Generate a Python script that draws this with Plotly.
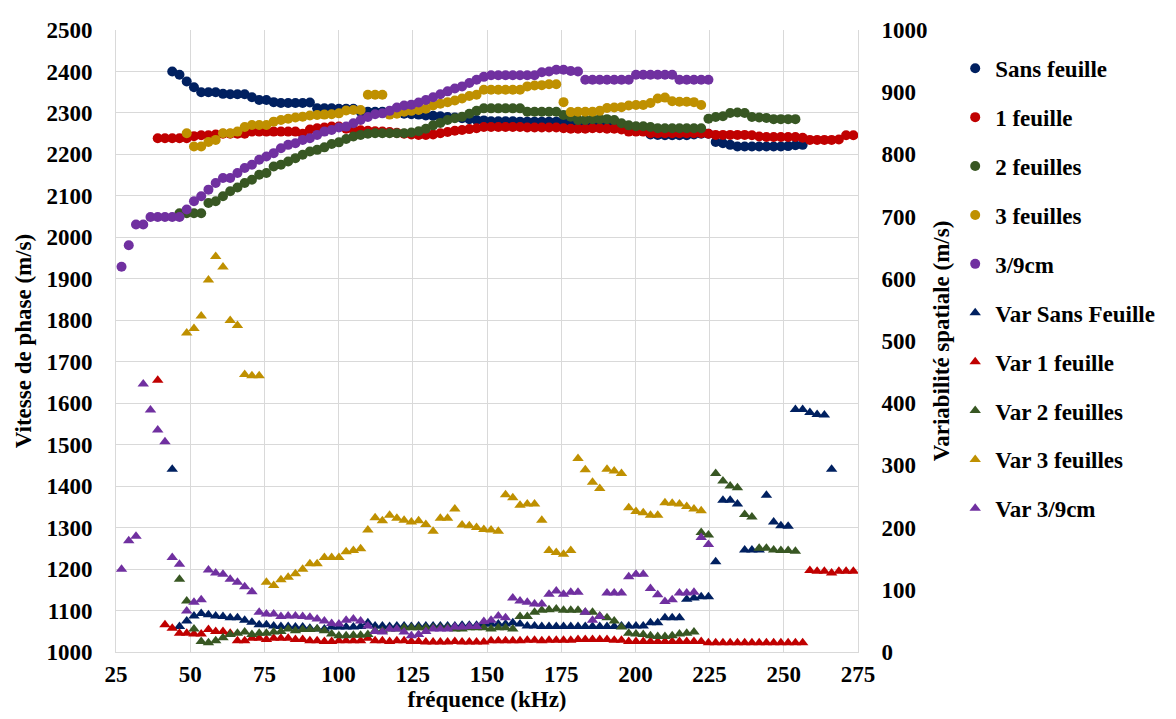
import plotly.graph_objects as go

# Frequency grid (kHz) shared by all series, first value = index 11 of the grid
freq_khz = [
    26.86, 29.30, 31.74, 34.18, 36.62, 39.06, 41.50, 43.95, 46.39, 48.83,
    51.27, 53.71, 56.15, 58.59, 61.04, 63.48, 65.92, 68.36, 70.80, 73.24,
    75.68, 78.13, 80.57, 83.01, 85.45, 87.89, 90.33, 92.77, 95.21, 97.66,
    100.10, 102.54, 104.98, 107.42, 109.86, 112.30, 114.75, 117.19, 119.63, 122.07,
    124.51, 126.95, 129.39, 131.84, 134.28, 136.72, 139.16, 141.60, 144.04, 146.48,
    148.93, 151.37, 153.81, 156.25, 158.69, 161.13, 163.57, 166.02, 168.46, 170.90,
    173.34, 175.78, 178.22, 180.66, 183.11, 185.55, 187.99, 190.43, 192.87, 195.31,
    197.75, 200.20, 202.64, 205.08, 207.52, 209.96, 212.40, 214.84, 217.29, 219.73,
    222.17, 224.61, 227.05, 229.49, 231.93, 234.38, 236.82, 239.26, 241.70, 244.14,
    246.58, 249.02, 251.46, 253.91, 256.35, 258.79, 261.23, 263.67, 266.11, 268.55,
    270.99, 273.44,
]
GRID0 = 11  # grid index of freq_khz[0]

# ---- Vitesse de phase (m/s), left axis ----
sans_feuille_start = 18
sans_feuille = [
    2400, 2392, 2376, 2362, 2350, 2350, 2350, 2346, 2345, 2345,
    2345, 2338, 2331, 2331, 2326, 2324, 2324, 2324, 2324, 2325,
    2311, 2311, 2311, 2310, 2310, 2310, 2303, 2303, 2303, 2303,
    2302, 2300, 2298, 2297, 2296, 2294, 2293, 2292, 2290, 2289,
    2287, 2285, 2283, 2282, 2280, 2280, 2280, 2280, 2279, 2279,
    2279, 2279, 2279, 2279, 2278, 2277, 2275, 2274, 2273, 2273,
    2272, 2270, 2268, 2265, 2262, 2260, 2248, 2247, 2246, 2246,
    2246, 2246, 2248, 2250, 2250, 2230, 2227, 2223, 2219, 2219,
    2219, 2219, 2219, 2219, 2219, 2220, 2222, 2223,
]

un_feuille_start = 16
un_feuille = [
    2239, 2239, 2239, 2239, 2239, 2244, 2246, 2246, 2248, 2250,
    2250, 2250, 2250, 2255, 2255, 2255, 2255, 2255, 2255, 2255,
    2250, 2260, 2263, 2265, 2267, 2267, 2262, 2260, 2258, 2257,
    2256, 2255, 2254, 2252, 2250, 2248, 2247, 2247, 2248, 2251,
    2254, 2257, 2259, 2261, 2263, 2266, 2266, 2266, 2266, 2266,
    2266, 2265, 2265, 2265, 2265, 2265, 2263, 2262, 2262, 2262,
    2263, 2263, 2262, 2262, 2260, 2255, 2255, 2255, 2251, 2251,
    2251, 2251, 2251, 2251, 2251, 2251, 2250, 2247, 2247, 2247,
    2247, 2247, 2246, 2243, 2242, 2242, 2242, 2242, 2242, 2240,
    2235, 2235, 2235, 2235, 2236, 2246, 2246,
]

deux_feuilles_start = 19
deux_feuilles = [
    2058, 2058, 2058, 2058, 2083, 2087, 2099, 2111, 2120, 2131,
    2139, 2151, 2155, 2171, 2175, 2183, 2191, 2199, 2207, 2211,
    2217, 2225, 2229, 2237, 2243, 2247, 2250, 2251, 2251, 2251,
    2251, 2251, 2253, 2256, 2262, 2270, 2276, 2283, 2287, 2291,
    2298, 2305, 2311, 2311, 2311, 2311, 2311, 2311, 2303, 2303,
    2303, 2303, 2303, 2295, 2291, 2283, 2283, 2285, 2285, 2285,
    2283, 2275, 2270, 2268, 2268, 2266, 2263, 2263, 2263, 2263,
    2263, 2263, 2263, 2286, 2290, 2292, 2300, 2301, 2300, 2290,
    2289, 2288, 2285, 2285, 2285, 2285,
]

trois_feuilles_start = 20
trois_feuilles = [
    2251, 2219, 2219, 2230, 2235, 2251, 2251, 2255, 2266, 2271,
    2271, 2271, 2279, 2283, 2286, 2289, 2291, 2294, 2295, 2296,
    2297, 2299, 2306, 2307, 2307, 2344, 2344, 2344, 2296, 2298,
    2303, 2305, 2307, 2310, 2318, 2322, 2326, 2330, 2335, 2341,
    2344, 2356, 2356, 2356, 2356, 2356, 2356, 2364, 2366, 2367,
    2369, 2369, 2326, 2302, 2303, 2303, 2303, 2305, 2312, 2313,
    2314, 2318, 2319, 2319, 2324, 2335, 2337, 2328, 2327, 2327,
    2326, 2319,
]

trois_9cm_start = 11
trois_9cm = [
    1929, 1981, 2031, 2031, 2049, 2049, 2049, 2049, 2049, 2067,
    2087, 2099, 2115, 2131, 2143, 2143, 2155, 2167, 2175, 2187,
    2195, 2203, 2215, 2223, 2227, 2235, 2239, 2247, 2255, 2259,
    2265, 2267, 2275, 2283, 2290, 2297, 2299, 2305, 2313, 2318,
    2320, 2325, 2331, 2338, 2345, 2352, 2359, 2364, 2372, 2380,
    2387, 2391, 2391, 2391, 2391, 2391, 2391, 2391, 2398, 2400,
    2404, 2404, 2401, 2400, 2380, 2380, 2380, 2380, 2380, 2380,
    2380, 2392, 2392, 2392, 2392, 2392, 2392, 2380, 2380, 2380,
    2380, 2380,
]

# ---- Variabilité spatiale (m/s), right axis ----
var_sans_feuille_start = 18
var_sans_feuille = [
    294, 41, 50, 58, 62, 60, 58, 57, 55, 55,
    51, 48, 44, 44, 42, 41, 41, 40, 40, 38,
    37, 37, 40, 40, 40, 40, 41, 47, 42, 42,
    41, 42, 42, 41, 42, 42, 42, 42, 42, 42,
    43, 43, 43, 45, 45, 45, 45, 47, 45, 42,
    42, 41, 41, 41, 41, 41, 41, 41, 41, 41,
    41, 41, 42, 42, 42, 42, 47, 47, 55, 55,
    55, 85, 87, 89, 89, 145, 244, 244, 238, 164,
    164, 164, 252, 209, 203, 202, 390, 390, 385, 382,
    381, 294,
]

var_un_feuille_start = 16
var_un_feuille = [
    437, 44, 38, 30, 30, 29, 29, 36, 33, 33,
    30, 18, 18, 22, 22, 20, 22, 22, 22, 20,
    20, 18, 18, 17, 17, 18, 18, 18, 18, 22,
    18, 18, 17, 18, 18, 17, 17, 16, 16, 16,
    16, 17, 16, 16, 16, 16, 18, 18, 18, 18,
    18, 19, 19, 18, 19, 19, 19, 19, 20, 20,
    20, 20, 20, 19, 19, 17, 17, 17, 17, 17,
    17, 17, 17, 17, 17, 17, 15, 15, 15, 15,
    15, 15, 15, 15, 15, 15, 15, 15, 15, 15,
    131, 130, 130, 127, 130, 130, 130,
]

var_deux_feuilles_start = 19
var_deux_feuilles = [
    117, 82, 37, 17, 15, 18, 23, 28, 30, 32,
    28, 30, 30, 32, 33, 37, 34, 36, 36, 37,
    34, 29, 26, 26, 27, 27, 28, 34, 34, 37,
    37, 39, 39, 39, 39, 39, 39, 39, 37, 37,
    39, 39, 39, 37, 39, 39, 37, 57, 57, 64,
    67, 68, 69, 67, 67, 67, 64, 64, 58, 55,
    50, 40, 30, 29, 28, 26, 25, 25, 26, 29,
    30, 32, 192, 188, 287, 275, 267, 264, 221, 217,
    167, 167, 164, 163, 163, 162,
]

var_trois_feuilles_start = 20
var_trois_feuilles = [
    513, 520, 540, 598, 636, 619, 533, 525, 446, 444,
    444, 112, 107, 116, 120, 126, 133, 142, 142, 152,
    152, 152, 161, 163, 166, 196, 216, 211, 220, 215,
    212, 209, 211, 205, 194, 215, 215, 230, 204, 203,
    200, 197, 196, 194, 253, 248, 236, 238, 238, 212,
    163, 160, 157, 163, 311, 293, 273, 263, 294, 291,
    287, 232, 226, 224, 220, 220, 240, 239, 238, 234,
    230, 227,
]

var_trois_9cm_start = 11
var_trois_9cm = [
    133, 179, 186, 431, 389, 357, 338, 152, 141, 66,
    80, 84, 132, 127, 125, 117, 112, 105, 97, 64,
    61, 61, 57, 58, 58, 57, 56, 53, 50, 46,
    45, 51, 53, 50, 42, 33, 32, 37, 37, 32,
    26, 28, 33, 37, 37, 37, 40, 40, 41, 41,
    49, 51, 58, 55, 87, 82, 80, 77, 77, 93,
    98, 93, 96, 96, 64, 51, 57, 95, 95, 95,
    121, 125, 125, 102, 92, 81, 84, 95, 95, 96,
    184, 173,
]

NAVY = "#002060"
RED = "#C00000"
GREEN = "#385723"
GOLD = "#BF9000"
PURPLE = "#7030A0"

series = [
    ("Sans feuille", sans_feuille_start, sans_feuille, NAVY, "circle", "y"),
    ("1 feuille", un_feuille_start, un_feuille, RED, "circle", "y"),
    ("2 feuilles", deux_feuilles_start, deux_feuilles, GREEN, "circle", "y"),
    ("3 feuilles", trois_feuilles_start, trois_feuilles, GOLD, "circle", "y"),
    ("3/9cm", trois_9cm_start, trois_9cm, PURPLE, "circle", "y"),
    ("Var Sans Feuille", var_sans_feuille_start, var_sans_feuille, NAVY, "triangle-up", "y2"),
    ("Var 1 feuille", var_un_feuille_start, var_un_feuille, RED, "triangle-up", "y2"),
    ("Var 2 feuilles", var_deux_feuilles_start, var_deux_feuilles, GREEN, "triangle-up", "y2"),
    ("Var 3 feuilles", var_trois_feuilles_start, var_trois_feuilles, GOLD, "triangle-up", "y2"),
    ("Var 3/9cm", var_trois_9cm_start, var_trois_9cm, PURPLE, "triangle-up", "y2"),
]

FONT = "Liberation Serif, Times New Roman, serif"
fig = go.Figure()
for i, (name, start, vals, color, symbol, yax) in enumerate(series):
    off = start - GRID0
    xs = freq_khz[off:off + len(vals)]
    fig.add_trace(go.Scatter(
        x=xs, y=vals, name=name, mode="markers", yaxis=yax,
        legendgroup=f"g{i}",
        marker=dict(color=color, symbol=symbol, size=10, line=dict(width=0)),
    ))

axis_common = dict(
    showline=True, linecolor="#D9D9D9", linewidth=1, zeroline=False,
    tickfont=dict(family=FONT, size=23, color="black", weight="bold"),
    ticks="outside", tickcolor="rgba(0,0,0,0)",
)

fig.update_layout(
    width=1176, height=719,
    margin=dict(l=108, r=326, t=22, b=75, autoexpand=False),
    plot_bgcolor="white", paper_bgcolor="white",
    font=dict(family=FONT, size=23, color="black", weight="bold"),
    xaxis=dict(
        range=[25, 275], tick0=25, dtick=25, showgrid=True, gridcolor="#D9D9D9",
        ticklen=1,
        title=dict(text="fréquence (kHz)", standoff=1,
                   font=dict(family=FONT, size=23, weight="bold")),
        **axis_common,
    ),
    yaxis=dict(
        range=[1000, 2500], dtick=100, showgrid=True, gridcolor="#D9D9D9",
        ticklen=18,
        title=dict(text="Vitesse de phase (m/s)", standoff=8,
                   font=dict(family=FONT, size=23, weight="bold")),
        **axis_common,
    ),
    yaxis2=dict(
        range=[0, 1000], dtick=100, overlaying="y", side="right", showgrid=False,
        ticklen=18,
        title=dict(text="Variabilité spatiale (m/s)", standoff=6,
                   font=dict(family=FONT, size=23, weight="bold")),
        **axis_common,
    ),
    legend=dict(
        x=1.131, y=0.973, xanchor="left", yanchor="top",
        font=dict(family=FONT, size=23, weight="bold"),
        tracegroupgap=16, itemwidth=30,
        bgcolor="rgba(0,0,0,0)",
    ),
)

fig.write_html("out.html")
